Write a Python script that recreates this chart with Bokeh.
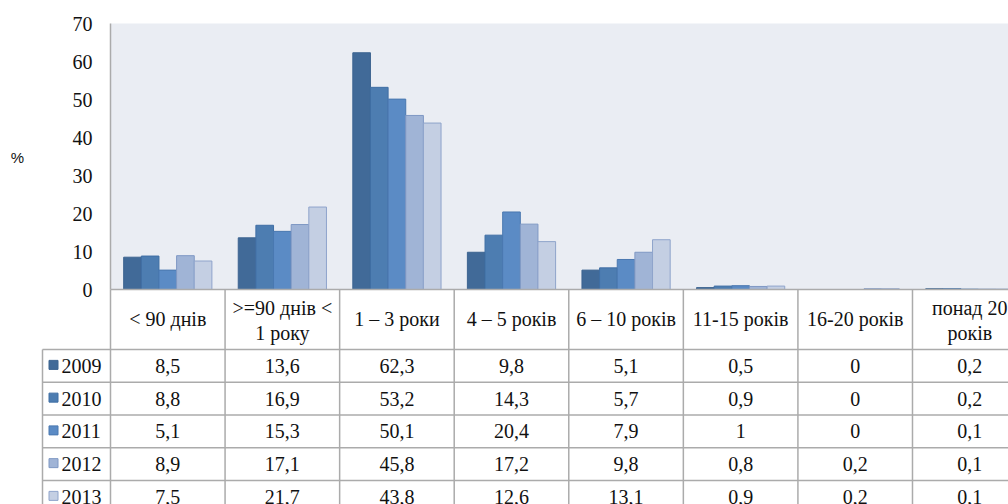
from bokeh.plotting import figure
from bokeh.models import Range1d, ColumnDataSource
from bokeh.core.properties import value
from bokeh.embed import file_html
from bokeh.resources import INLINE

# ---- data ----
categories = ["< 90 днів", ">=90 днів <\n1 року", "1 – 3 роки", "4 – 5 років",
              "6 – 10 років", "11-15 років", "16-20 років", "понад 20\nроків"]
years = ["2009", "2010", "2011", "2012", "2013"]
v2009 = [8.5, 13.6, 62.3, 9.8, 5.1, 0.5, 0, 0.2]
v2010 = [8.8, 16.9, 53.2, 14.3, 5.7, 0.9, 0, 0.2]
v2011 = [5.1, 15.3, 50.1, 20.4, 7.9, 1, 0, 0.1]
v2012 = [8.9, 17.1, 45.8, 17.2, 9.8, 0.8, 0.2, 0.1]
v2013 = [7.5, 21.7, 43.8, 12.6, 13.1, 0.9, 0.2, 0.1]
series = [v2009, v2010, v2011, v2012, v2013]
y_ticks = [0, 10, 20, 30, 40, 50, 60, 70]
y_label = "%"

# ---- styles / layout ----
fills = ["#416A98", "#4D7DB1", "#5B8BC5", "#A0B4D6", "#C4CFE3"]
lines = ["#3D6490", "#3F6EA4", "#4A78B0", "#7F98C4", "#8FA4CB"]
grid_col = "#ABABAB"
txt_col = "#111111"
FONT = "'Liberation Serif', 'Times New Roman', serif"
FS = "20px"

FIG_W, FIG_H = 1008, 504
X0 = 110.0          # pixel x of first category boundary
Y0 = 289.0          # pixel y of value 0
W = 114.57          # px per category
U = 266.0 / 70.0    # px per value unit
bar_w = 0.154
nser = len(series)
ncat = len(categories)


def px(xp):
    return (xp - X0) / W


def py(yp):
    return (Y0 - yp) / U


p = figure(width=FIG_W, height=FIG_H, output_backend="svg", toolbar_location=None,
           x_range=Range1d(px(0), px(FIG_W)), y_range=Range1d(py(FIG_H), py(0)),
           x_axis_location=None, y_axis_location=None, min_border=0)
p.background_fill_color = "white"
p.border_fill_color = "white"
p.outline_line_color = None
p.grid.visible = False

# plot area background
p.quad(left=[0], right=[ncat + 1], bottom=[0], top=[max(y_ticks)],
       fill_color="#EAEDF3", line_color=None)

# bars
for k, vals in enumerate(series):
    xs = [i + 0.5 + (k - (nser - 1) / 2) * bar_w for i in range(len(vals))]
    src = ColumnDataSource(dict(x=xs, top=vals))
    p.vbar(x="x", top="top", bottom=0, width=bar_w, source=src,
           fill_color=fills[k], line_color=lines[k], line_width=1)

# value axis
p.segment(x0=[0], y0=[0], x1=[0], y1=[max(y_ticks)], line_color=grid_col, line_width=1.5)
p.text(x=[px(X0 - 18)] * len(y_ticks), y=y_ticks, text=[str(t) for t in y_ticks],
       text_font=value(FONT), text_font_size=FS, text_align="right",
       text_baseline="middle", text_color=txt_col)
p.text(x=[px(17)], y=[py(157)], text=[y_label], text_font=value("'Liberation Sans', Arial, sans-serif"),
       text_font_size="15px", text_align="center", text_baseline="middle",
       text_color=txt_col)

# ---- data table ----
HDR_B = 349.0
ROW = 32.75
LEG_L = 42.0
right_end = ncat + 1

# top line (category axis)
p.segment(x0=[0], y0=[0], x1=[right_end], y1=[0], line_color=grid_col, line_width=1.5)
# row lines
hy = [py(HDR_B + r * ROW) for r in range(nser)]
p.segment(x0=[px(LEG_L)] * len(hy), y0=hy, x1=[right_end] * len(hy), y1=hy,
          line_color=grid_col, line_width=1.5)
# column lines
vx = list(range(ncat + 1))
p.segment(x0=vx, y0=[0] * len(vx), x1=vx, y1=[py(FIG_H + 5)] * len(vx),
          line_color=grid_col, line_width=1.5)
p.segment(x0=[px(LEG_L)], y0=[py(HDR_B)], x1=[px(LEG_L)], y1=[py(FIG_H + 5)],
          line_color=grid_col, line_width=1.5)

# header texts
hx, hyt, htxt = [], [], []
for i, c in enumerate(categories):
    parts = c.split("\n")
    if len(parts) == 1:
        hx.append(i + 0.5); hyt.append(py(318)); htxt.append(parts[0])
    else:
        hx += [i + 0.5, i + 0.5]; hyt += [py(307), py(332)]; htxt += parts
p.text(x=hx, y=hyt, text=htxt, text_font=value(FONT), text_font_size=FS,
       text_align="center", text_baseline="middle", text_color=txt_col)


def fmt(v):
    if float(v).is_integer():
        return str(int(v))
    return ("%g" % v).replace(".", ",")


cx, cy, ct = [], [], []
for k, vals in enumerate(series):
    for i, v in enumerate(vals):
        cx.append(i + 0.5); cy.append(py(HDR_B + (k + 0.5) * ROW)); ct.append(fmt(v))
p.text(x=cx, y=cy, text=ct, text_font=value(FONT), text_font_size=FS,
       text_align="center", text_baseline="middle", text_color=txt_col)

# legend keys + year labels
ky = [py(HDR_B + (k + 0.5) * ROW - 1) for k in range(nser)]
p.scatter(x=[px(53)] * nser, y=ky, marker="square", size=9,
          fill_color=fills, line_color=lines, line_width=1)
p.text(x=[px(61)] * nser, y=[py(HDR_B + (k + 0.5) * ROW) for k in range(nser)],
       text=years, text_font=value(FONT), text_font_size=FS, text_align="left",
       text_baseline="middle", text_color=txt_col)

open("out.html", "w").write(file_html(p, INLINE))
